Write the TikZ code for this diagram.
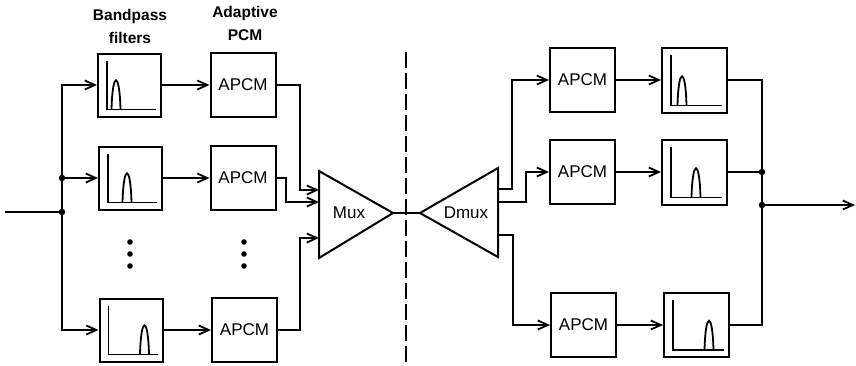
\documentclass[tikz,border=0pt]{standalone}
\usepackage{fontspec}
\setmainfont{Liberation Sans}
\usetikzlibrary{arrows.meta,calc}
\begin{document}
\begin{tikzpicture}[x=1pt,y=-1pt,
  line width=2pt, line join=miter,
  arr/.style={-{Straight Barb[length=10pt,width=9pt,line width=1.8pt]}},
  filt/.style={draw, minimum width=63pt, minimum height=63pt, inner sep=0pt},
  apcm/.style={draw, minimum width=65pt, minimum height=64pt, inner sep=0pt, font=\fontsize{17}{18}\selectfont},
  lbl/.style={font=\bfseries\fontsize{15.5}{17}\selectfont, inner sep=0pt},
  dotm/.style={circle, fill, inner sep=0pt, minimum size=6.5pt},
  glyph/.style={line width=1.8pt}
]
\useasboundingbox (0,0) rectangle (856,365);

% labels
\node[lbl] (lb1) at (130,16) {Bandpass};
\node[lbl] (lb2) at (130,38) {filters};
\node[lbl] (la1) at (245,13) {Adaptive};
\node[lbl] (la2) at (245,35) {PCM};

% left side boxes
\node[filt] (f1) at (129.5,85) {};
\node[filt] (f2) at (130.5,178) {};
\node[filt] (f4) at (131,330) {};
\node[apcm] (a1) at (243,85) {APCM};
\node[apcm] (a2) at (243,178) {APCM};
\node[apcm] (a4) at (244.5,330) {APCM};

% right side boxes
\node[apcm] (b1) at (582.5,80) {APCM};
\node[apcm] (b2) at (582.5,172) {APCM};
\node[apcm] (b3) at (583.5,325) {APCM};
\node[filt, minimum width=65pt, minimum height=65pt] (g1) at (694.5,80) {};
\node[filt, minimum width=65pt, minimum height=65pt] (g2) at (694.5,172) {};
\node[filt, minimum width=65pt, minimum height=64pt] (g3) at (696.5,325) {};

% filter glyphs: axes and bump
\foreach \n/\off in {f1/19, f2/29, f4/46, g1/21, g2/35, g3/46}{
  \draw[glyph] ($(\n.north west)+(10,8)$) -- ($(\n.south west)+(10,-8)$) -- ($(\n.south east)+(-6,-8)$);
  \draw[glyph] ($(\n.south west)+(\off-4.5,-8)$) .. controls ($(\n.south west)+(\off-3.5,-47)$) and ($(\n.south west)+(\off+3.5,-47)$) .. ($(\n.south west)+(\off+4.5,-8)$);
}

% dots (vertical ellipsis)
\foreach \x in {130,244}{
  \foreach \y in {242,254,266}{
    \fill (\x,\y) circle (2.8pt);
  }
}

% Mux and Dmux triangles
\coordinate (mt) at (319,171);
\coordinate (mb) at (319,258);
\coordinate (ma) at (393,213);
\draw (mt) -- (ma) -- (mb) -- cycle;
\node[font=\fontsize{17}{18}\selectfont, inner sep=0pt] (mux) at (349,213) {Mux};
\coordinate (dt) at (498,168);
\coordinate (db) at (498,257);
\coordinate (da) at (420,213);
\draw (dt) -- (da) -- (db) -- cycle;
\node[font=\fontsize{17}{18}\selectfont, inner sep=0pt] (dmux) at (466,213) {Dmux};
\draw (ma) -- (da);

% dashed separator
\coordinate (sepT) at (406,52);
\coordinate (sepB) at (406,365);
\draw[line width=1.6pt, dash pattern=on 16pt off 5pt] (sepT) -- (sepB);

% input and distribution
\coordinate (in) at (5,212);
\coordinate (j0) at (62,212);
\coordinate (j2) at (62,178);
\draw (in) -- (j0);
\draw[arr] (j0) |- (f1.west);
\draw[arr] (j0) |- (f4.west);
\draw[arr] (j2) -- (f2.west);
\node[dotm] at (j0) {};
\node[dotm] at (j2) {};

% filters to APCM
\draw[arr] (f1.east) -- (a1.west);
\draw[arr] (f2.east) -- (a2.west);
\draw[arr] (f4.east) -- (a4.west);

% APCM to Mux
\coordinate (m1) at (319,190);
\coordinate (m2) at (319,202);
\coordinate (m4) at (319,238);
\draw[arr] (a1.east) -| ([xshift=-19pt]m1) -- (m1);
\draw[arr] (a2.east) -| ([xshift=-33pt]m2) -- (m2);
\draw[arr] (a4.east) -| ([xshift=-19pt]m4) -- (m4);

% Dmux to APCM
\coordinate (d1) at (498,189);
\coordinate (d2) at (498,202);
\coordinate (d3) at (498,235);
\draw[arr] (d1) -| ([xshift=-37pt]b1.west) -- (b1.west);
\draw[arr] (d2) -| ([xshift=-23pt]b2.west) -- (b2.west);
\draw[arr] (d3) -| ([xshift=-37pt]b3.west) -- (b3.west);

% APCM to filters
\draw[arr] (b1.east) -- (g1.west);
\draw[arr] (b2.east) -- (g2.west);
\draw[arr] (b3.east) -- (g3.west);

% output combination
\coordinate (k2) at (762,172);
\coordinate (ko) at (762,205);
\coordinate (out) at (855,205);
\draw (g1.east) -| (ko);
\draw (g3.east) -| (ko);
\draw (g2.east) -- (k2);
\draw[arr] (ko) -- (out);
\node[dotm] at (k2) {};
\node[dotm] at (ko) {};
\end{tikzpicture}
\end{document}
